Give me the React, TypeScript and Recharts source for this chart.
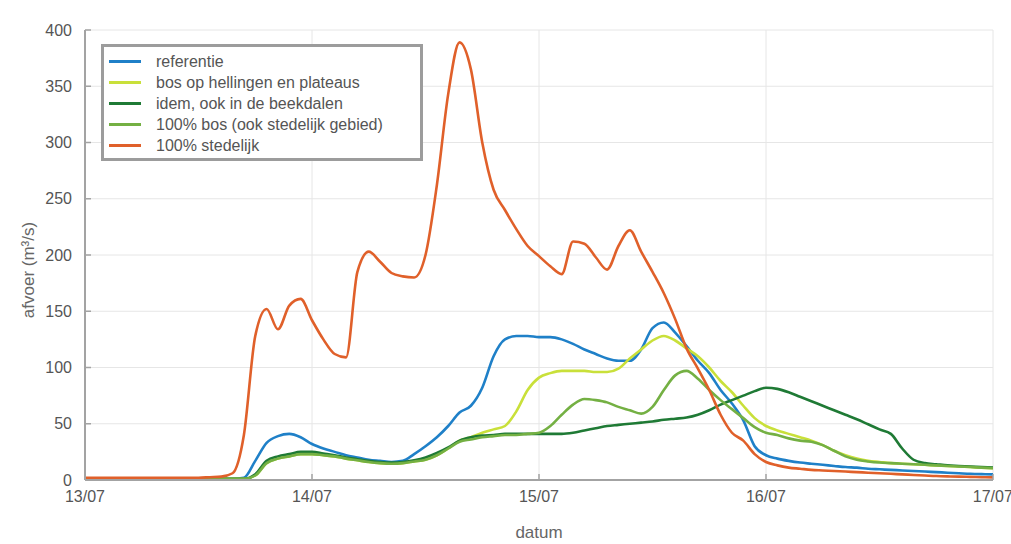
import React from "react";
import {
  LineChart,
  Line,
  XAxis,
  YAxis,
  CartesianGrid,
  Legend,
} from "recharts";

// time in days after 13/07 00:00
const days = [
  0, 0.05, 0.1, 0.15, 0.2, 0.25, 0.3, 0.35, 0.4, 0.45, 0.5, 0.55, 0.6, 0.65, 0.7, 0.75, 0.8, 0.85, 0.9, 0.95,
  1, 1.05, 1.1, 1.15, 1.2, 1.25, 1.3, 1.35, 1.4, 1.45, 1.5, 1.55, 1.6, 1.65, 1.7, 1.75, 1.8, 1.85, 1.9, 1.95,
  2, 2.05, 2.1, 2.15, 2.2, 2.25, 2.3, 2.35, 2.4, 2.45, 2.5, 2.55, 2.6, 2.65, 2.7, 2.75, 2.8, 2.85, 2.9, 2.95,
  3, 3.05, 3.1, 3.15, 3.2, 3.25, 3.3, 3.35, 3.4, 3.45, 3.5, 3.55, 3.6, 3.65, 3.7, 3.75, 3.8, 3.85, 3.9, 3.95,
  4,
];

const dateLabels = ["13/07", "14/07", "15/07", "16/07", "17/07"];
const yTicks = [0, 50, 100, 150, 200, 250, 300, 350, 400];

// afvoer (m3/s) per scenario
const referentie = [
  1, 1, 1, 1, 1, 1, 1, 1, 1, 1, 1, 1, 1, 1, 2, 17, 33, 39, 41, 38,
  32, 28, 25, 22, 20, 18, 17, 16, 17, 23, 30, 38, 48, 60, 66, 82, 110, 125, 128, 128,
  127, 127, 125, 121, 116, 112, 108, 106, 106, 116, 135, 140, 131, 119, 106, 95, 80, 68, 53, 30,
  22, 19, 17, 15.5, 14.5, 13.5, 12.5, 11.5, 11, 10, 9.5, 9, 8.5, 8, 7.5, 7, 6.5, 6, 5.5, 5.2,
  5,
];

const bosHellingen = [
  1, 1, 1, 1, 1, 1, 1, 1, 1, 1, 1, 1, 1, 1, 1, 4, 15, 19, 21, 23,
  23, 22, 21, 19, 17.5, 16, 15, 14.5, 15, 16.5, 18, 22, 28, 35, 38, 42, 45, 48, 61, 80,
  91, 95, 97, 97, 97, 96, 96, 99, 108, 116, 124, 128, 124, 117, 110, 100, 88, 78, 66, 55,
  48, 44, 41, 38, 35, 31, 26, 22, 19, 17, 16, 15, 14.5, 14, 13.5, 13, 12.5, 12, 11.5, 11,
  10.5,
];

const idemBeekdalen = [
  1, 1, 1, 1, 1, 1, 1, 1, 1, 1, 1, 1, 1, 1, 1, 5, 17, 21, 23, 25,
  25, 23.5, 22, 20, 18.5, 17, 16, 15.5, 16, 17.5, 20, 24, 29, 35, 38, 39.5, 40, 41, 41, 41,
  41, 41, 41, 42, 44, 46, 48, 49, 50, 51, 52, 53.5, 54.5, 55.5, 58, 62, 67, 71, 75, 79,
  82, 81, 78, 74, 70, 66, 62, 58, 54, 49.5, 45, 41, 28, 18, 15, 14, 13, 12.5, 12, 11.5,
  11,
];

const bos100 = [
  1, 1, 1, 1, 1, 1, 1, 1, 1, 1, 1, 1, 1, 1, 1, 4, 15, 19, 21, 23,
  23, 22, 21, 19, 17.5, 16, 15, 14.5, 15, 16.5, 18, 22, 28, 34, 36, 38, 39, 40, 40, 41,
  42, 48, 58, 67, 72, 71, 69, 65, 62, 59, 65, 80, 93, 97, 90, 80, 71, 63, 55, 47,
  42, 40, 37, 35, 34, 31, 26, 21, 18, 16.5, 15.5, 15, 14.5, 14, 13.5, 13, 12.5, 12, 11.5, 11,
  10.5,
];

const stedelijk100 = [
  2, 2, 2, 2, 2, 2, 2, 2, 2, 2, 2, 2.5, 3, 6, 40, 128, 152, 134, 155, 161,
  142, 125, 112, 109, 185, 203, 194, 184, 181, 180, 200, 262, 343, 389, 365, 300, 258, 240, 223, 208,
  199, 190, 183, 212, 210, 198, 187, 208, 222, 203, 185, 166, 143, 117, 99, 80, 58, 42, 35, 23,
  16, 13, 11, 10, 9, 8.5, 8, 7.5, 7, 6.5, 6, 5.5, 5, 4.5, 4, 3.5, 3.2, 3, 2.8, 2.5,
  2.3,
];

const series = [
  { key: "referentie", name: "referentie", color: "#1f80c8", values: referentie },
  { key: "bosHellingen", name: "bos op hellingen en plateaus", color: "#c9e03a", values: bosHellingen },
  { key: "idemBeekdalen", name: "idem, ook in de beekdalen", color: "#1f7a35", values: idemBeekdalen },
  { key: "bos100", name: "100% bos (ook stedelijk gebied)", color: "#74b043", values: bos100 },
  { key: "stedelijk100", name: "100% stedelijk", color: "#e0602a", values: stedelijk100 },
];

const data = days.map((d, i) => {
  const row: Record<string, number> = { day: d };
  series.forEach((s) => {
    row[s.key] = s.values[i];
  });
  return row;
});

const FONT = "'Liberation Sans', Arial, sans-serif";
const FRAME = "#a3a3a3";
const tickStyle = { fill: "#555", fontSize: 16, fontFamily: FONT };

function LegendBox() {
  return (
    <div
      style={{
        width: 316,
        height: 107,
        border: "3px solid #9c9c9c",
        background: "#fff",
        padding: "4px 0 0 0",
        fontFamily: FONT,
        fontSize: 16,
        color: "#555",
        textAlign: "left",
      }}
    >
      {series.map((s) => (
        <div key={s.key} style={{ display: "flex", alignItems: "center", height: 21 }}>
          <div style={{ width: 32, height: 3, background: s.color, marginLeft: 5, marginRight: 15 }} />
          <span>{s.name}</span>
        </div>
      ))}
    </div>
  );
}

export default function App() {
  return (
    <div style={{ position: "absolute", left: 0, top: 0, width: 1011, height: 544, background: "#fff" }}>
      <LineChart
        width={1011}
        height={544}
        data={data}
        margin={{ top: 30, right: 18, left: 0, bottom: 0 }}
      >
        <CartesianGrid stroke="#e6e6e6" strokeWidth={1} />
        <XAxis
          dataKey="day"
          type="number"
          domain={[0, 4]}
          ticks={[0, 1, 2, 3, 4]}
          tickFormatter={(v: number) => dateLabels[v]}
          height={64}
          tick={tickStyle}
          tickSize={-6}
          tickMargin={17}
          axisLine={{ stroke: FRAME, strokeWidth: 2 }}
          tickLine={{ stroke: FRAME, strokeWidth: 1.5 }}
          label={{ value: "datum", position: "insideBottom", offset: 6, fill: "#666", fontSize: 17, fontFamily: FONT }}
        />
        <XAxis
          xAxisId="top"
          orientation="top"
          dataKey="day"
          type="number"
          domain={[0, 4]}
          ticks={[0, 1, 2, 3, 4]}
          height={0}
          tick={false}
          tickSize={-6}
          axisLine={{ stroke: FRAME, strokeWidth: 2 }}
          tickLine={{ stroke: FRAME, strokeWidth: 1.5 }}
        />
        <YAxis
          type="number"
          domain={[0, 400]}
          ticks={yTicks}
          width={85}
          tick={tickStyle}
          tickSize={-6}
          tickMargin={19}
          axisLine={{ stroke: FRAME, strokeWidth: 2 }}
          tickLine={{ stroke: FRAME, strokeWidth: 1.5 }}
          label={{
            content: () => (
              <text
                x={30}
                y={270}
                transform="rotate(-90 30 270)"
                textAnchor="middle"
                dominantBaseline="middle"
                fill="#666"
                fontSize={17}
                fontFamily={FONT}
              >
                afvoer (m³/s)
              </text>
            ),
          }}
        />
        <YAxis
          yAxisId="right"
          orientation="right"
          type="number"
          domain={[0, 400]}
          ticks={yTicks}
          width={0}
          tick={false}
          tickSize={-6}
          axisLine={{ stroke: FRAME, strokeWidth: 2 }}
          tickLine={{ stroke: FRAME, strokeWidth: 1.5 }}
        />
        <Legend
          layout="horizontal"
          verticalAlign="middle"
          align="center"
          content={() => <LegendBox />}
          wrapperStyle={{ position: "absolute", left: 101, top: 44, width: "auto", height: "auto" }}
        />
        {series.map((s) => (
          <Line
            key={s.key}
            type="monotone"
            dataKey={s.key}
            name={s.name}
            stroke={s.color}
            strokeWidth={2.6}
            dot={false}
            activeDot={false}
            isAnimationActive={false}
          />
        ))}
      </LineChart>
    </div>
  );
}
